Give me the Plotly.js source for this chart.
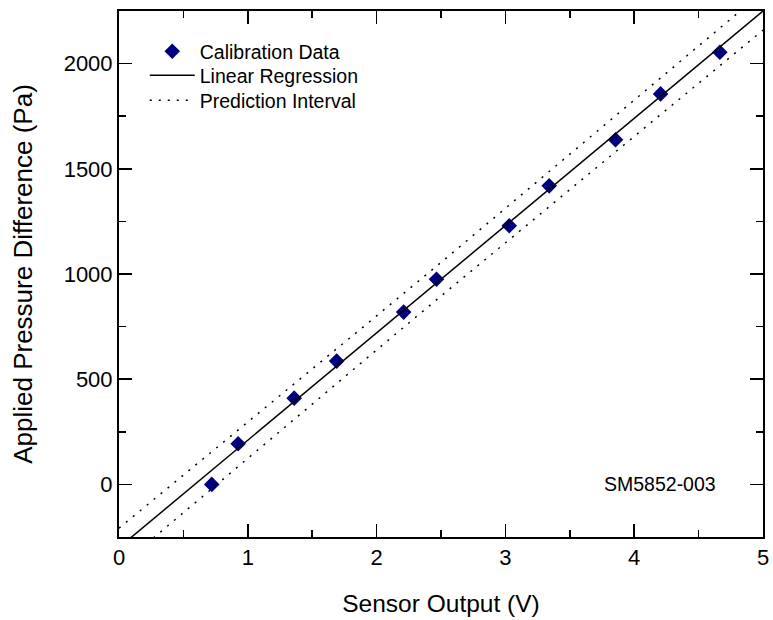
<!DOCTYPE html>
<html>
<head>
<meta charset="utf-8">
<script src="https://cdn.plot.ly/plotly-3.0.1.min.js"></script>
<style>html,body{margin:0;padding:0;background:#fff;}#chart{width:773px;height:620px;}</style>
</head>
<body>
<div id="chart"></div>
<script>
// Calibration data
var sensorOutput = [0.72, 0.925, 1.36, 1.69, 2.21, 2.465, 3.03, 3.34, 3.855, 4.205, 4.665];
var pressure = [0, 193, 410, 586, 819, 975, 1229, 1419, 1638, 1856, 2054];

// Linear regression line endpoints
var regX = [0, 5];
var regY = [-300, 2250];

// Prediction interval curves
var piX = [0, 1, 2, 2.5, 3, 4, 5];
var piUpper = [-208, 295, 801, 1055, 1311, 1826, 2341];
var piLower = [-392, 125, 639, 895, 1149, 1654, 2159];

var FONT = 'Liberation Sans, Arial, sans-serif';

var traces = [
  {x: sensorOutput, y: pressure, mode: 'markers', type: 'scatter', name: 'Calibration Data', legend: 'legend',
   marker: {symbol: 'diamond', size: 12, color: '#00007f', line: {width: 0}}},
  {x: regX, y: regY, mode: 'lines', type: 'scatter', name: 'Linear Regression', legend: 'legend2',
   line: {color: '#000', width: 1.5}},
  {x: piX, y: piUpper, mode: 'lines', type: 'scatter', name: 'Prediction Interval', legend: 'legend3',
   line: {color: '#000', width: 1.5, dash: '2px,7px'}},
  {x: piX, y: piLower, mode: 'lines', type: 'scatter', name: 'Prediction Interval lower', showlegend: false,
   line: {color: '#000', width: 1.5, dash: '2px,7px'}}
];

var axisCommon = {
  showline: true, linecolor: '#000', linewidth: 2, mirror: 'ticks',
  ticks: 'inside', ticklen: 13, tickwidth: 1.5, tickcolor: '#000',
  showgrid: false, zeroline: false,
  tickfont: {family: FONT, size: 22, color: '#000'}
};

function legendAt(y) {
  return {x: 0.04, y: y, xanchor: 'left', yanchor: 'top', bgcolor: 'rgba(0,0,0,0)', borderwidth: 0,
          itemwidth: 45, font: {family: FONT, size: 19.5, color: '#000'}, tracegroupgap: 0};
}

var layout = {
  width: 773, height: 620,
  margin: {l: 119, r: 10, t: 11, b: 83},
  paper_bgcolor: '#fff', plot_bgcolor: '#fff',
  showlegend: true,
  legend: legendAt(0.96),
  legend2: legendAt(0.9144),
  legend3: legendAt(0.8669),
  xaxis: Object.assign({}, axisCommon, {
    range: [0, 5], dtick: 1, tick0: 0,
    minor: {dtick: 0.5, ticklen: 7, tickwidth: 1.5, tickcolor: '#000', ticks: 'inside'},
    title: {text: 'Sensor Output (V)', font: {family: FONT, size: 24.5, color: '#000'}, standoff: 25}
  }),
  yaxis: Object.assign({}, axisCommon, {
    range: [-250, 2250], dtick: 500, tick0: 0,
    minor: {dtick: 250, ticklen: 7, tickwidth: 1.5, tickcolor: '#000', ticks: 'inside'},
    title: {text: 'Applied Pressure Difference (Pa)', font: {family: FONT, size: 26, color: '#000'}, standoff: 24}
  }),
  annotations: [{x: 4.2, y: 0, xref: 'x', yref: 'y', text: 'SM5852-003', showarrow: false,
                 font: {family: FONT, size: 19.5, color: '#000'}}]
};

Plotly.newPlot('chart', traces, layout, {displayModeBar: false, staticPlot: true});
</script>
</body>
</html>
